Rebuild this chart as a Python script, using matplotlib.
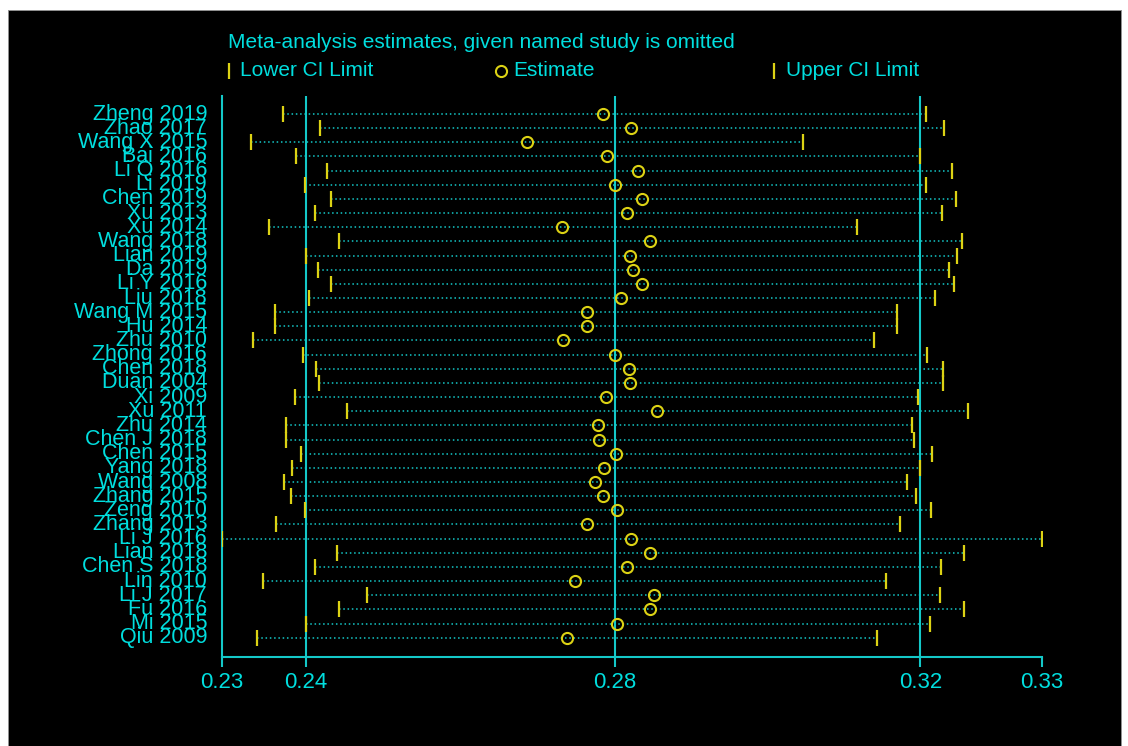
import matplotlib
matplotlib.use("Agg")
import matplotlib.pyplot as plt
from matplotlib.patches import Rectangle

plt.rcParams['font.family'] = ['Liberation Sans', 'DejaVu Sans']

studies = ["Zheng 2019", "Zhao 2017", "Wang X 2015", "Bai 2016", "Li Q 2016", "Li 2019",
           "Chen 2019", "Xu 2013", "Xu 2014", "Wang 2018", "Lian 2019", "Da 2019",
           "Li Y 2016", "Liu 2018", "Wang M 2015", "Hu 2014", "Zhu 2010", "Zhong 2016",
           "Chen 2018", "Duan 2004", "Xi 2009", "Xu 2011", "Zhu 2014", "Chen J 2018",
           "Chen 2015", "Yang 2018", "Wang 2008", "Zhang 2015", "Zeng 2010", "Zhang 2013",
           "Li J 2016", "Lian 2018", "Chen S 2018", "Lin 2010", "Li J 2017", "Fu 2016",
           "Mi 2015", "Qiu 2009"]

lower = [0.2386, 0.2432, 0.2345, 0.2402, 0.2440, 0.2413, 0.2445, 0.2426, 0.2368, 0.2455,
         0.2414, 0.2429, 0.2445, 0.2418, 0.2376, 0.2376, 0.2348, 0.2411, 0.2427, 0.2431,
         0.2400, 0.2466, 0.2389, 0.2389, 0.2408, 0.2397, 0.2387, 0.2395, 0.2413, 0.2377,
         0.2309, 0.2453, 0.2426, 0.2361, 0.2490, 0.2455, 0.2414, 0.2353]

estimate = [0.2786, 0.2821, 0.2690, 0.2791, 0.2829, 0.2800, 0.2834, 0.2816, 0.2734, 0.2844,
            0.2819, 0.2823, 0.2834, 0.2808, 0.2765, 0.2765, 0.2735, 0.2800, 0.2818, 0.2819,
            0.2789, 0.2853, 0.2779, 0.2780, 0.2802, 0.2787, 0.2776, 0.2786, 0.2803, 0.2766,
            0.2821, 0.2844, 0.2816, 0.2750, 0.2849, 0.2844, 0.2803, 0.2740]

upper = [0.3189, 0.3212, 0.3035, 0.3182, 0.3222, 0.3189, 0.3227, 0.3209, 0.3103, 0.3234,
         0.3228, 0.3218, 0.3224, 0.3200, 0.3153, 0.3153, 0.3124, 0.3190, 0.3210, 0.3210,
         0.3179, 0.3242, 0.3171, 0.3174, 0.3197, 0.3181, 0.3165, 0.3176, 0.3195, 0.3157,
         0.3334, 0.3237, 0.3208, 0.3139, 0.3207, 0.3236, 0.3194, 0.3128]

overall_lower = 0.2414
overall_est = 0.2800
overall_upper = 0.3182

title = "Meta-analysis estimates, given named study is omitted"
legend_labels = ["Lower CI Limit", "Estimate", "Upper CI Limit"]

CYAN_TXT = '#00dede'
CYAN_LN = '#14c8c8'
YEL = '#dcd214'

W, H = 1128, 746
fig = plt.figure(figsize=(W / 100, H / 100), dpi=100, facecolor='white')
fig.patches.append(Rectangle((8 / W, 0), (1121 - 8) / W, (746 - 10) / H,
                             transform=fig.transFigure, facecolor='black',
                             edgecolor='#909090', linewidth=0.7, zorder=-10))

def fx(px):
    return px / W

def fy(py):
    return 1 - py / H

ax_l, ax_r, ax_t, ax_b = 221.7, 1042.0, 96.0, 657.0
ax = fig.add_axes([fx(ax_l), fy(ax_b), (ax_r - ax_l) / W, (ax_b - ax_t) / H])
ax.set_facecolor('none')
ax.set_zorder(5)

n = len(studies)
ys = list(range(n))
xmin = min(lower)
xmax = max(upper)
ax.set_xlim(xmin, xmax)
row0, step = 114.0, 14.154
ax.set_ylim((ax_b - row0) / step, (ax_t - row0) / step)

for xv in (overall_lower, overall_est, overall_upper):
    ax.axvline(xv, color=CYAN_LN, lw=1.5, zorder=1)

for y, lo, hi in zip(ys, lower, upper):
    ax.plot([lo, hi], [y, y], color=CYAN_LN, lw=1.1, linestyle=(0, (1, 1.8)), zorder=2)

ax.plot(lower, ys, linestyle='none', marker='|', markersize=11.5, markeredgewidth=1.6,
        color=YEL, zorder=3)
ax.plot(upper, ys, linestyle='none', marker='|', markersize=11.5, markeredgewidth=1.6,
        color=YEL, zorder=3)
ax.plot(estimate, ys, linestyle='none', marker='o', markersize=8, markerfacecolor='none',
        markeredgewidth=1.5, markeredgecolor=YEL, zorder=4)

for s in ('top', 'right'):
    ax.spines[s].set_visible(False)
for s in ('left', 'bottom'):
    ax.spines[s].set_color(CYAN_LN)
    ax.spines[s].set_linewidth(1.5)

ticks = [xmin, overall_lower, overall_est, overall_upper, xmax]
ax.set_xticks(ticks)
ax.set_xticklabels([f"{t:.2f}" for t in ticks])
ax.tick_params(axis='x', colors=CYAN_LN, length=7.5, width=1.5, pad=3.5,
               labelcolor=CYAN_TXT, labelsize=16)
ax.set_yticks(ys)
ax.set_yticklabels(studies)
ax.tick_params(axis='y', length=0, pad=10.5, labelcolor=CYAN_TXT, labelsize=15.5)
for lab in ax.get_yticklabels():
    lab.set_verticalalignment('center')

fig.text(fx(228), fy(43), title, color=CYAN_TXT, fontsize=15, ha='left', va='center')

ly = fy(71)
fig.lines.append(plt.Line2D([fx(229)], [ly], transform=fig.transFigure, marker='|',
                            markersize=12, markeredgewidth=1.6, color=YEL, linestyle='none'))
fig.text(fx(240), ly, legend_labels[0], color=CYAN_TXT, fontsize=15, ha='left', va='center')
fig.lines.append(plt.Line2D([fx(501)], [ly], transform=fig.transFigure, marker='o',
                            markersize=8, markerfacecolor='none', markeredgewidth=1.5,
                            markeredgecolor=YEL, linestyle='none'))
fig.text(fx(513), ly, legend_labels[1], color=CYAN_TXT, fontsize=15, ha='left', va='center')
fig.lines.append(plt.Line2D([fx(774)], [ly], transform=fig.transFigure, marker='|',
                            markersize=12, markeredgewidth=1.6, color=YEL, linestyle='none'))
fig.text(fx(786), ly, legend_labels[2], color=CYAN_TXT, fontsize=15, ha='left', va='center')

fig.savefig("out.png", dpi=100, facecolor='white')
